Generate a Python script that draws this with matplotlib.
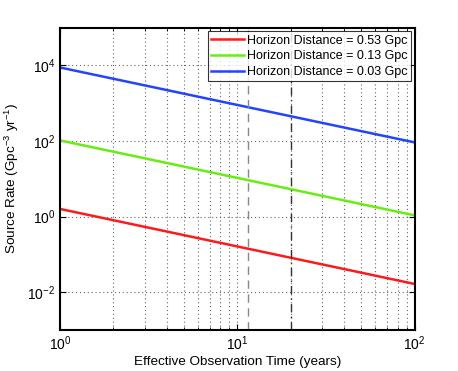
import numpy as np
import matplotlib
matplotlib.use("Agg")
import matplotlib.pyplot as plt
from matplotlib.ticker import LogLocator, FixedLocator, NullFormatter

plt.rcParams['font.family'] = ['Liberation Sans', 'DejaVu Sans']
plt.rcParams['mathtext.fontset'] = 'custom'
plt.rcParams['mathtext.rm'] = 'Liberation Sans'

obs_time = [1, 100]
labels = ["Horizon Distance = 0.53 Gpc", "Horizon Distance = 0.13 Gpc", "Horizon Distance = 0.03 Gpc"]
rate_053 = [1.6, 0.0165]
rate_013 = [104, 1.08]
rate_003 = [8850, 92]
colors = ["#ff1a1a", "#66ee11", "#2244ff"]
vline_dashed = 11.5
vline_dashdot = 20

fig = plt.figure(figsize=(4.58, 3.71), dpi=100)
ax = fig.add_axes([60/458, 1-330/371, (414.7-60)/458, (330-27.7)/371])

for y, c, l in zip([rate_053, rate_013, rate_003], colors, labels):
    ax.plot(obs_time, y, color=c, lw=1.8, label=l)

ax.axvline(vline_dashed, color='#888888', ls=(0, (6, 4)), lw=1.0)
ax.axvline(vline_dashdot, color='#333333', ls=(0, (6, 3, 1, 3)), lw=1.0)

ax.set_xscale('log')
ax.set_yscale('log')
ax.set_xlim(1, 100)
ax.set_ylim(1e-3, 1e5)
ax.yaxis.set_major_locator(FixedLocator([1e-2, 1, 1e2, 1e4]))
ax.yaxis.set_minor_locator(FixedLocator([]))
ax.xaxis.set_major_locator(LogLocator(base=10))
ax.xaxis.set_minor_locator(LogLocator(base=10, subs=np.arange(2, 10)))
ax.xaxis.set_minor_formatter(NullFormatter())

ax.grid(True, which='major', ls=(0, (1, 2.5)), color='#666666', lw=0.8)
ax.grid(True, which='minor', axis='x', ls=(0, (1, 2.5)), color='#666666', lw=0.8)
ax.tick_params(which='both', direction='in', top=True, right=True, labelsize=10)
ax.tick_params(which='major', length=4, width=0.8)
ax.tick_params(which='minor', length=2, width=0.6)
for s in ax.spines.values():
    s.set_linewidth(1.5)

ax.set_xlabel("Effective Observation Time (years)", fontsize=9.7, labelpad=2)
ax.set_ylabel("Source Rate (Gpc$^{-3}$ yr$^{-1}$)", fontsize=9.7, labelpad=4)

leg = ax.legend(loc='upper right', fontsize=9.0, frameon=True, fancybox=False,
                edgecolor='black', borderpad=0.25, labelspacing=0.3, handlelength=2.6,
                handletextpad=0.3, borderaxespad=0.3)
leg.get_frame().set_linewidth(0.8)

fig.savefig("out.png", dpi=100)
